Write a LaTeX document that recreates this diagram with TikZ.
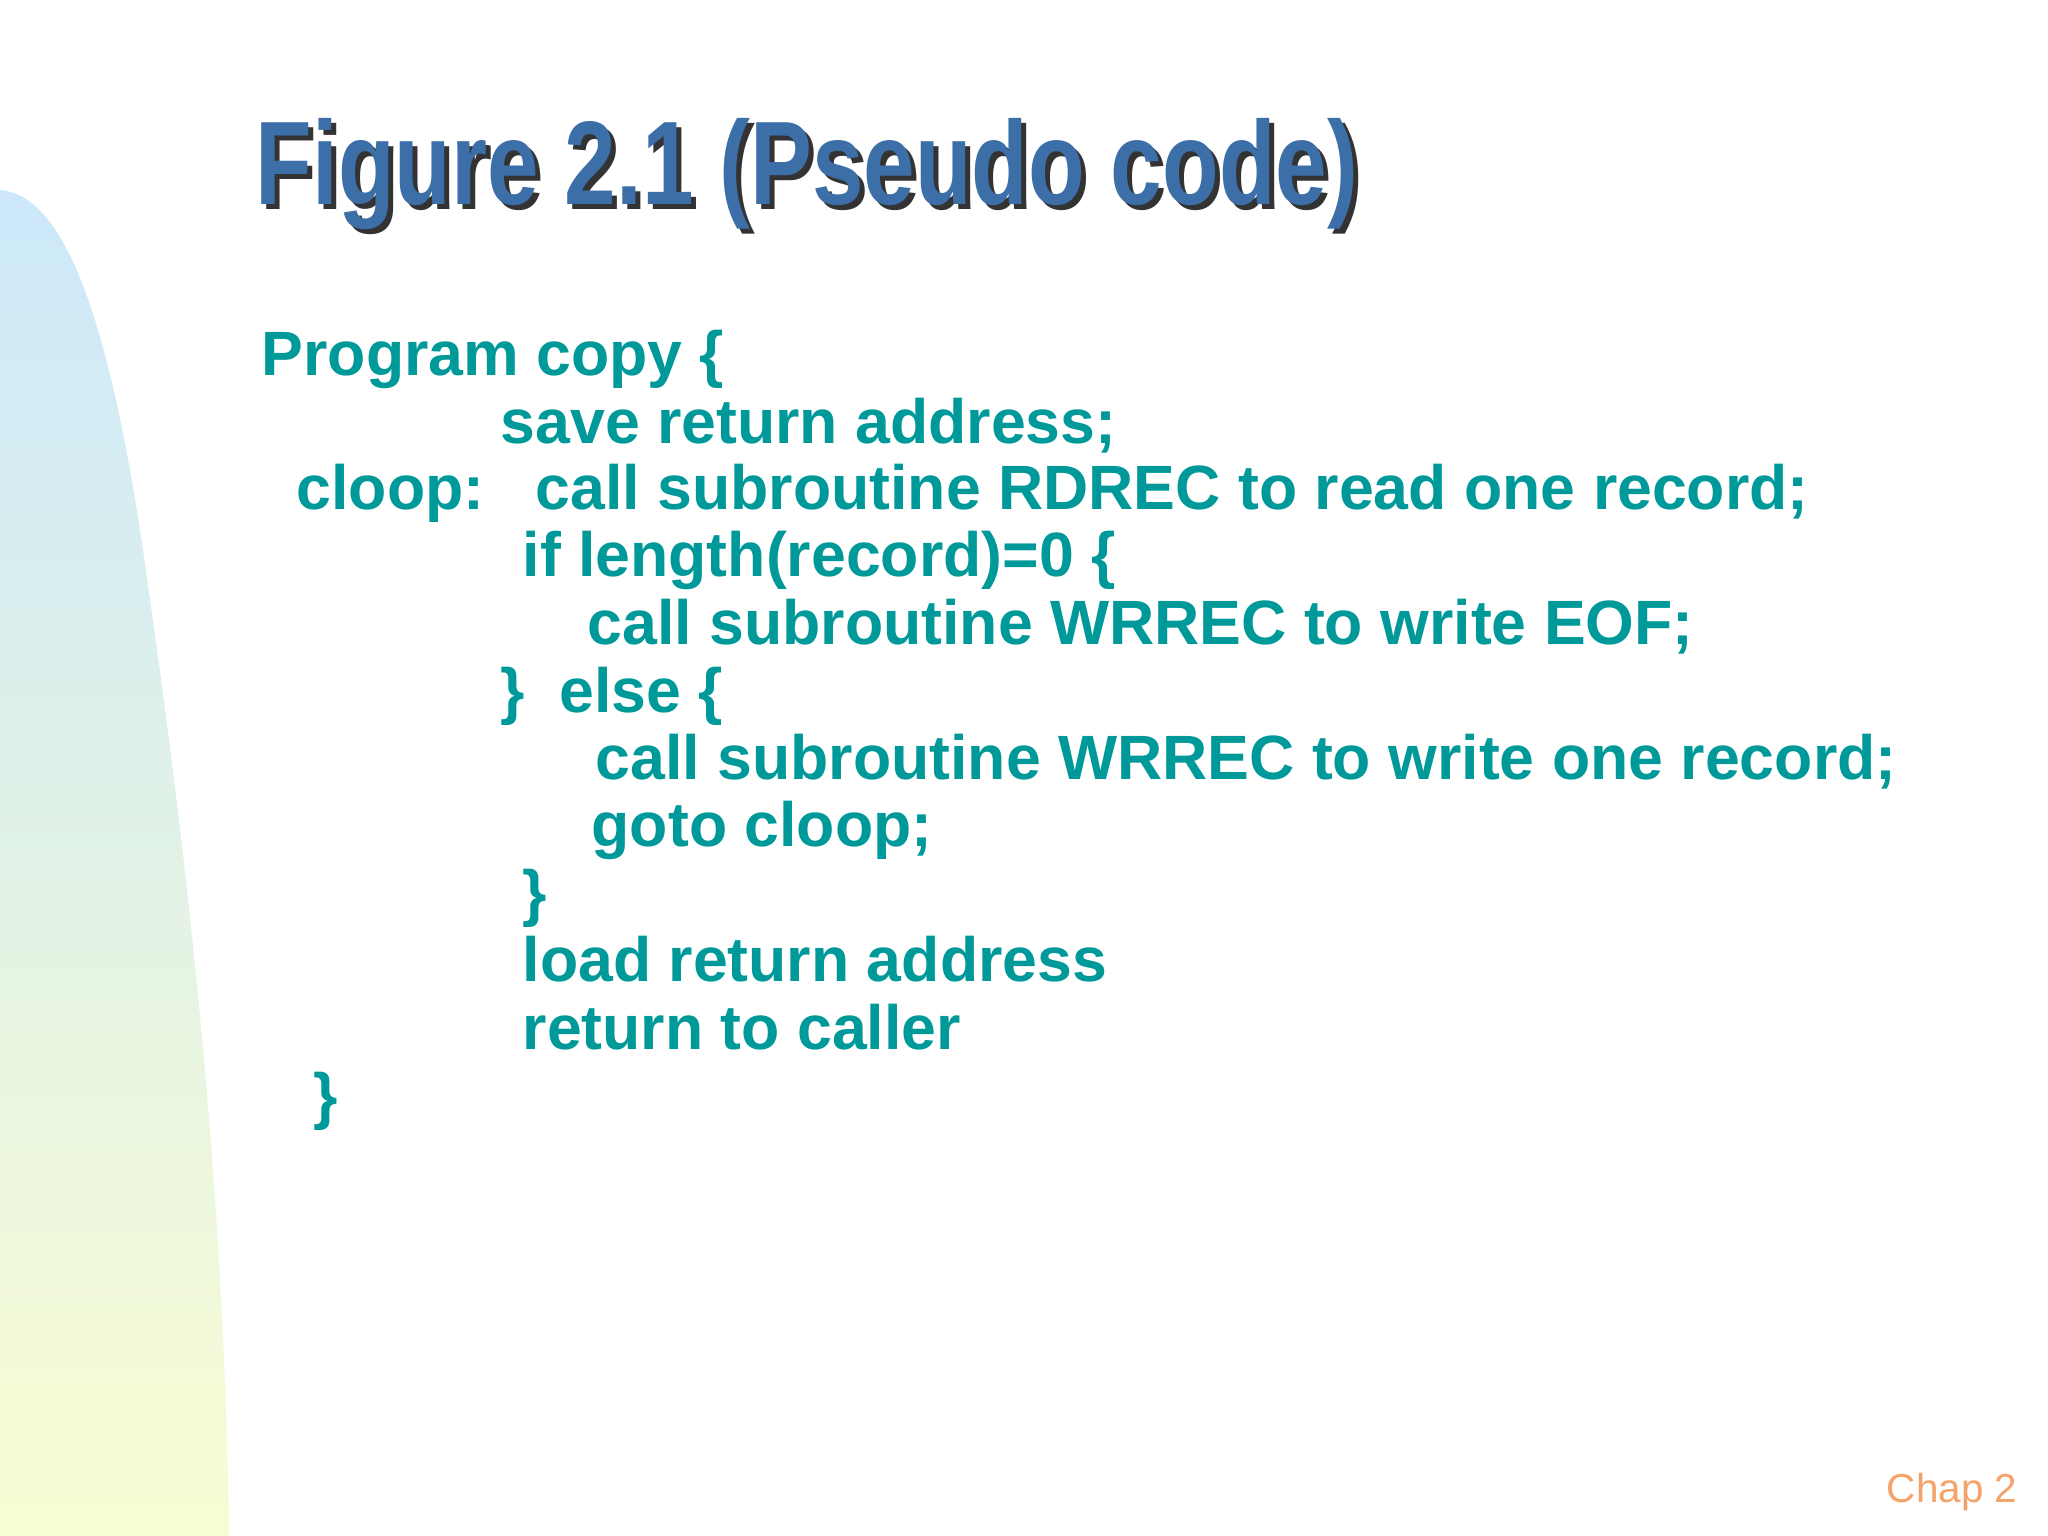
\documentclass[tikz,border=0pt]{standalone}
\usepackage{fontspec}
\setmainfont{Liberation Sans}
\definecolor{codeteal}{HTML}{00999A}
\definecolor{titleblue}{HTML}{3C6EA8}
\definecolor{chaporange}{HTML}{F4A46A}
\definecolor{bandtop}{HTML}{CCE8FA}
\definecolor{bandbot}{HTML}{F8FCD2}
\tikzset{
  code/.style={anchor=base west, inner sep=0pt, text=codeteal, font=\fontsize{17.8}{18}\selectfont\bfseries},
}
\begin{document}
\begin{tikzpicture}[x=0.01cm,y=-0.01cm]
\useasboundingbox (0,0) rectangle (2048,1536);
\fill[white] (0,0) rectangle (2048,1536);
\shade[top color=bandtop, bottom color=bandbot]
  (0,190) .. controls (60,195) and (110,300) .. (150,600)
  .. controls (200,950) and (225,1250) .. (229,1536) -- (0,1536) -- cycle;
% title with shadow
\node[anchor=base west, inner sep=0pt, text=black!80, font=\fontsize{33.8}{34}\selectfont\bfseries] (tshadow) at (260,209) {\scalebox{0.78}[1]{Figure 2.1 (Pseudo code)}};
\node[anchor=base west, inner sep=0pt, text=titleblue, font=\fontsize{33.8}{34}\selectfont\bfseries] (title) at (255,204) {\scalebox{0.78}[1]{Figure 2.1 (Pseudo code)}};
% code
\node[code] (l1) at (261,375) {Program copy \{};
\node[code] (l2) at (500,443) {save return address;};
\node[code] (l3a) at (296,509) {cloop:};
\node[code] (l3b) at (535,509) {call subroutine RDREC to read one record;};
\node[code] (l4) at (522,576) {if length(record)=0 \{};
\node[code] (l5) at (587,644) {call subroutine WRREC to write EOF;};
\node[code] (l6a) at (500,712) {\}};
\node[code] (l6b) at (559,712) {else \{};
\node[code] (l7) at (595,779) {call subroutine WRREC to write one record;};
\node[code] (l8) at (591,846) {goto cloop;};
\node[code] (l9) at (522,914) {\}};
\node[code] (l10) at (522,981) {load return address};
\node[code] (l11) at (522,1049) {return to caller};
\node[code] (l12) at (313,1117) {\}};
\node[anchor=base east, inner sep=0pt, text=chaporange, font=\fontsize{11.5}{12}\selectfont] (chap) at (2018,1502) {Chap 2};
\end{tikzpicture}
\end{document}
